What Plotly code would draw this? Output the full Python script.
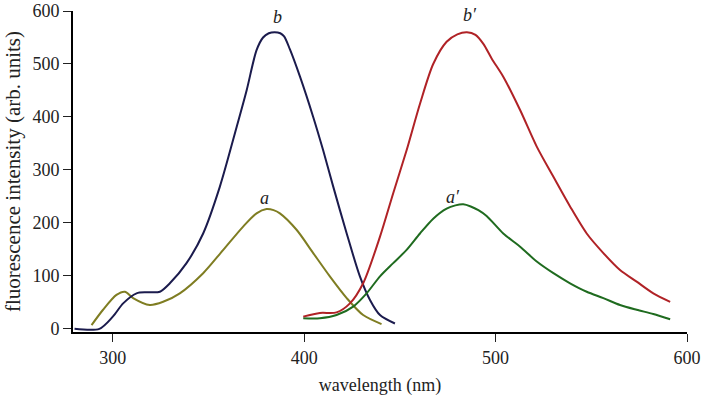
import plotly.graph_objects as go

# wavelength (nm) / fluorescence intensity (arb. units)
b_x = [280, 293, 300, 305.4, 312.4, 318, 324.6, 329.8, 338.5, 347.2, 355.9, 364.7, 369.9,
       375.1, 378.5, 381.5, 384.5, 387.5, 389.5, 392.5, 397.8, 404.7, 409.9, 415.2, 422.2,
       429.1, 434.3, 439.6, 447.4]
b_y = [0, 0, 23, 48, 67, 69, 70, 86, 124, 180, 268, 381, 450,
       526, 550, 558, 560, 558, 552, 528, 476, 400, 337, 268, 180,
       99, 55, 26, 10]

a_x = [288.9, 294.9, 301.9, 306.3, 310.6, 319.3, 326.3, 335, 347.2, 357.7, 368.1, 375.1,
       380.3, 384, 387.3, 396, 404.7, 413.4, 422.2, 430.8, 440.4]
a_y = [7, 36, 64, 70, 58, 45, 51, 67, 105, 149, 193, 218,
       226, 224, 218, 187, 143, 99, 58, 26, 9]

bp_x = [399.5, 408.2, 416.9, 423.9, 430.8, 439.6, 446.5, 453.5, 460.5, 467.4, 474.4, 480,
        485, 489.5, 493.6, 498, 504, 512.8, 521.5, 530.2, 538.9, 547.6, 556.3, 565,
        573.7, 582.4, 591.2]
bp_y = [23, 30, 31, 48, 86, 174, 256, 337, 425, 500, 542, 556,
        560, 555, 538, 510, 476, 413, 344, 287, 231, 180, 143, 111,
        89, 67, 51]

ap_x = [399.5, 408.2, 416.9, 425.6, 432.6, 439.6, 446.5, 453.5, 460.5, 467.4, 474.4, 479,
        483.1, 487, 491, 495.3, 504, 512.8, 521.5, 530.2, 538.9, 547.6, 556.3, 565,
        573.7, 582.4, 591.2]
ap_y = [20, 20, 26, 42, 67, 99, 124, 149, 180, 208, 227, 233,
        235, 231, 224, 213, 180, 155, 127, 105, 86, 70, 58, 45,
        36, 28, 18]

label_text = ["<i>b</i>", "<i>a</i>", "<i>b′</i>", "<i>a′</i>"]
label_x = [386, 379.5, 486.6, 477.7]
label_y = [588, 247, 592, 249]

x_ticks = [300, 400, 500, 600]
y_ticks = [0, 100, 200, 300, 400, 500, 600]

FONT = "Liberation Serif, Times New Roman, serif"

fig = go.Figure()
series = [
    (a_x, a_y, "#7f7d22"),
    (b_x, b_y, "#1b1b4d"),
    (ap_x, ap_y, "#1f6b1f"),
    (bp_x, bp_y, "#b02226"),
]
for xs, ys, col in series:
    fig.add_trace(go.Scatter(x=xs, y=ys, mode="lines",
                             line=dict(color=col, width=2, shape="spline", smoothing=0.8),
                             showlegend=False, hoverinfo="skip"))

for t, x, y in zip(label_text, label_x, label_y):
    fig.add_annotation(x=x, y=y, xref="x", yref="y", text=t, showarrow=False,
                       font=dict(family=FONT, size=18, color="#222"))

fig.update_layout(
    width=701, height=396,
    margin=dict(l=73, r=14, t=11, b=64),
    paper_bgcolor="white", plot_bgcolor="white",
    font=dict(family=FONT, size=18, color="#222"),
)
fig.update_xaxes(
    range=[279.2, 600], tickvals=x_ticks, ticks="outside", ticklen=8, tickwidth=1,
    tickcolor="#222", showline=True, linecolor="black", linewidth=2,
    showgrid=False, zeroline=False, automargin=False,
    title=dict(text="wavelength (nm)", font=dict(size=18), standoff=14),
    tickfont=dict(size=18),
)
fig.update_yaxes(
    range=[-6, 600], tickvals=y_ticks, ticks="outside", ticklen=8, tickwidth=1,
    tickcolor="#222", showline=True, linecolor="black", linewidth=2,
    showgrid=False, zeroline=False, automargin=False,
    title=dict(text="fluorescence intensity (arb. units)", font=dict(size=21), standoff=6),
    tickfont=dict(size=18),
)

fig.write_html("out.html", config={"displayModeBar": False},
               post_script="document.body.style.margin='0';")
